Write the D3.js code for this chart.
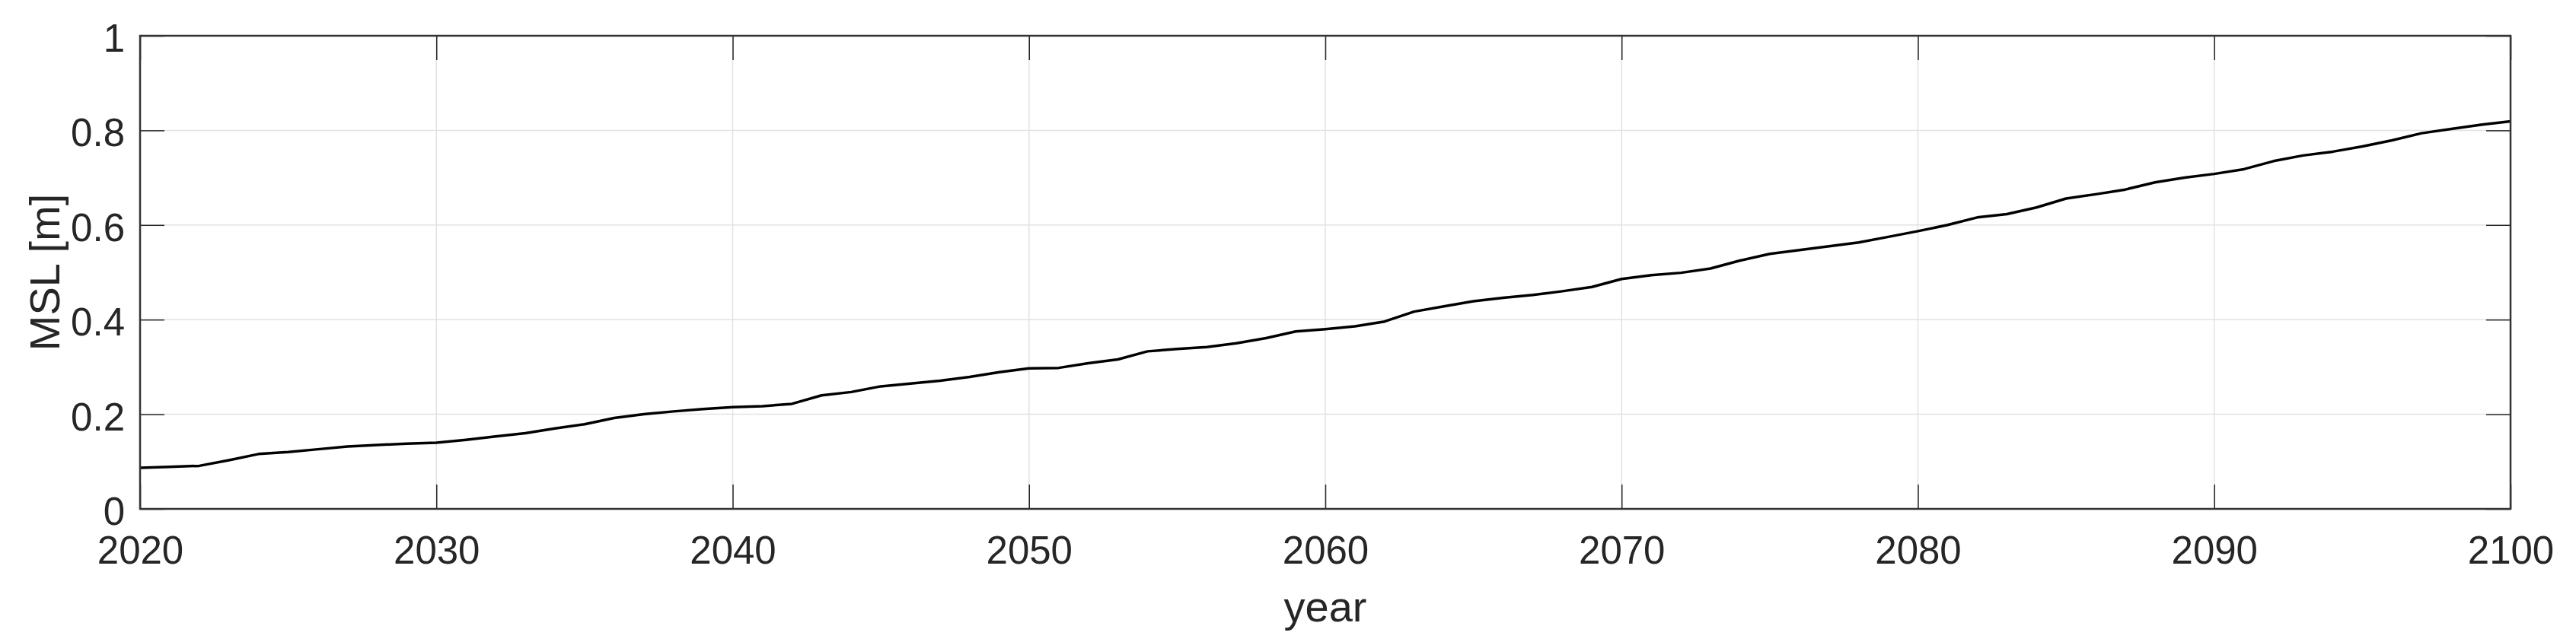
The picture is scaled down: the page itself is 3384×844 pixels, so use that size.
<!DOCTYPE html>
<html>
<head>
<meta charset="utf-8">
<script src="https://cdn.jsdelivr.net/npm/d3@7"></script>
<style>
  html, body { margin: 0; padding: 0; background: #fff; }
  text { font-family: "Liberation Sans", Arial, Helvetica, sans-serif; fill: #262626; }
</style>
</head>
<body>
<div id="chart"></div>
<script>
// Mean sea level projection, yearly values
const years = d3.range(2020, 2101);
const msl = [
  0.087, 0.089, 0.091, 0.103, 0.116, 0.120, 0.126, 0.132, 0.135, 0.138,
  0.140, 0.146, 0.153, 0.160, 0.170, 0.179, 0.192, 0.200, 0.206, 0.211,
  0.215, 0.217, 0.222, 0.240, 0.247, 0.259, 0.265, 0.271, 0.279, 0.289,
  0.297, 0.298, 0.308, 0.316, 0.333, 0.338, 0.342, 0.350, 0.361, 0.375,
  0.380, 0.386, 0.396, 0.417, 0.428, 0.439, 0.446, 0.452, 0.460, 0.469,
  0.486, 0.494, 0.499, 0.508, 0.525, 0.539, 0.547, 0.555, 0.563, 0.575,
  0.587, 0.600, 0.616, 0.623, 0.637, 0.656, 0.665, 0.675, 0.690, 0.700,
  0.708, 0.718, 0.735, 0.747, 0.755, 0.766, 0.779, 0.794, 0.803, 0.812,
  0.819
];
const xTicks = [2020, 2030, 2040, 2050, 2060, 2070, 2080, 2090, 2100];
const yTicks = [0, 0.2, 0.4, 0.6, 0.8, 1];

const W = 3384, H = 844;
const plotL = 184, plotR = 3298, plotT = 47, plotB = 669;
const tickLen = 32;

const svg = d3.select('#chart').append('svg')
    .attr('width', W)
    .attr('height', H);

const x = d3.scaleLinear().domain([2020, 2100]).range([plotL, plotR]);
const y = d3.scaleLinear().domain([0, 1]).range([plotB, plotT]);

// grid
const grid = svg.append('g');
grid.selectAll('line.gx')
    .data(xTicks.slice(1, -1))
    .enter().append('line')
    .attr('x1', d => x(d)).attr('x2', d => x(d))
    .attr('y1', plotT).attr('y2', plotB)
    .style('stroke', '#e2e2e2').style('stroke-width', 1.5);
grid.selectAll('line.gy')
    .data(yTicks.slice(1, -1))
    .enter().append('line')
    .attr('x1', plotL).attr('x2', plotR)
    .attr('y1', d => y(d)).attr('y2', d => y(d))
    .style('stroke', '#e2e2e2').style('stroke-width', 1.5);

// data line
const line = d3.line()
    .x((d, i) => x(years[i]))
    .y(d => y(d));

svg.append('path')
    .datum(msl)
    .attr('d', line)
    .style('fill', 'none')
    .style('stroke', '#000')
    .style('stroke-width', 3.5)
    .style('stroke-linejoin', 'round');

// axes (ticks pointing inward)
function styleAxis(g) {
    g.select('.domain').remove();
    g.selectAll('.tick line').style('stroke', '#262626').style('stroke-width', 1.5);
    g.selectAll('.tick text')
        .style('font-family', '"Liberation Sans", Arial, Helvetica, sans-serif')
        .style('font-size', '51px')
        .style('fill', '#262626');
}

svg.append('g')
    .attr('transform', `translate(0,${plotB})`)
    .call(d3.axisBottom(x).tickValues(xTicks).tickFormat(d3.format('d'))
        .tickSizeInner(-tickLen).tickSizeOuter(0).tickPadding(36))
    .call(styleAxis);

svg.append('g')
    .attr('transform', `translate(0,${plotT})`)
    .call(d3.axisTop(x).tickValues(xTicks).tickFormat('')
        .tickSizeInner(-tickLen).tickSizeOuter(0))
    .call(styleAxis);

svg.append('g')
    .attr('transform', `translate(${plotL},0)`)
    .call(d3.axisLeft(y).tickValues(yTicks).tickFormat(d => String(d))
        .tickSizeInner(-tickLen).tickSizeOuter(0).tickPadding(20))
    .call(styleAxis)
    .call(g => g.selectAll('.tick text').attr('dy', '0.4em'));

svg.append('g')
    .attr('transform', `translate(${plotR},0)`)
    .call(d3.axisRight(y).tickValues(yTicks).tickFormat('')
        .tickSizeInner(-tickLen).tickSizeOuter(0))
    .call(styleAxis);

// box
svg.append('rect')
    .attr('x', plotL).attr('y', plotT)
    .attr('width', plotR - plotL).attr('height', plotB - plotT)
    .style('fill', 'none')
    .style('stroke', '#333')
    .style('stroke-width', 2.5);

// labels
svg.append('text')
    .attr('x', (plotL + plotR) / 2)
    .attr('y', 817)
    .attr('text-anchor', 'middle')
    .style('font-size', '56px')
    .text('year');

svg.append('text')
    .attr('transform', `translate(78,${(plotT + plotB) / 2}) rotate(-90)`)
    .attr('text-anchor', 'middle')
    .style('font-size', '56px')
    .text('MSL [m]');
</script>
</body>
</html>
